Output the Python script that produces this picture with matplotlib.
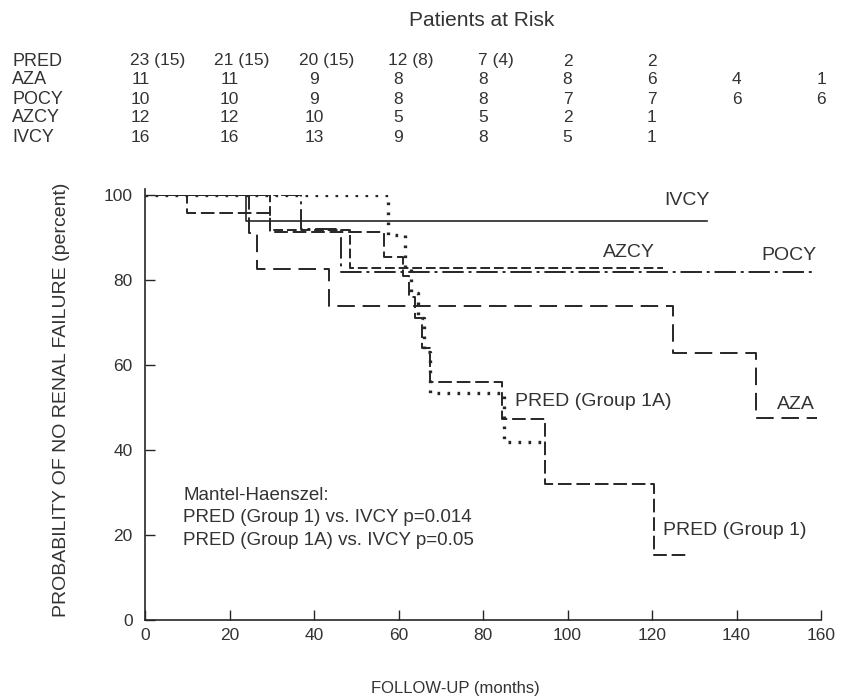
import matplotlib
matplotlib.use("Agg")
import matplotlib.pyplot as plt
from matplotlib.transforms import blended_transform_factory

plt.rcParams['font.family'] = ['Liberation Sans', 'DejaVu Sans']

# ---- data ----
ivcy_t = [0, 24, 133]
ivcy_s = [100, 94, 94]

aza_t = [0, 24.5, 26.5, 43.5, 125, 144.5, 159]
aza_s = [100, 91, 82.6, 74, 62.8, 47.5, 47.5]

azcy_t = [0, 29.6, 48.5, 122.6]
azcy_s = [100, 91.7, 82.8, 82.8]

pocy_t = [0, 37, 46.5, 158.6]
pocy_s = [100, 92, 81.8, 81.8]

pred1_t = [0, 10, 29.6, 56.5, 61, 62.5, 64, 65.5, 67.5, 84.5, 94.7, 120.5, 128]
pred1_s = [100, 95.7, 91.3, 85.5, 81, 76, 71, 64, 56, 47.3, 32, 15.3, 15.3]

pred1a_t = [0, 57.5, 61.5, 63, 64.5, 66, 67.5, 85, 94]
pred1a_s = [100, 90.6, 82.5, 77, 71, 63, 53.4, 41.9, 41.9]

risk_months = [0, 20, 40, 60, 80, 100, 120, 140, 160]
risk_rows = ["PRED", "AZA", "POCY", "AZCY", "IVCY"]
risk_pred = ["23 (15)", "21 (15)", "20 (15)", "12 (8)", "7 (4)", "2", "2"]
risk_aza = ["11", "11", "9", "8", "8", "8", "6", "4", "1"]
risk_pocy = ["10", "10", "9", "8", "8", "7", "7", "6", "6"]
risk_azcy = ["12", "12", "10", "5", "5", "2", "1"]
risk_ivcy = ["16", "16", "13", "9", "8", "5", "1"]

xticks = [0, 20, 40, 60, 80, 100, 120, 140, 160]
yticks = [0, 20, 40, 60, 80, 100]

# ---- figure ----
W, H = 843, 697
fig = plt.figure(figsize=(W / 100, H / 100), dpi=100)
ax = fig.add_axes([145 / W, 1 - 620 / H, (821 - 145) / W, (620 - 195) / H])

lc = '#262626'
tc = '#333333'

ax.step(ivcy_t, ivcy_s, where='post', color=lc, lw=1.2, linestyle='-')
ax.step(aza_t, aza_s, where='post', color=lc, lw=1.4, linestyle=(0, (9, 4)))
ax.step(azcy_t, azcy_s, where='post', color=lc, lw=1.4, linestyle=(0, (5, 2)))
ax.step(pocy_t, pocy_s, where='post', color=lc, lw=1.4, linestyle=(0, (11, 2.5, 1.5, 2.5)))
ax.step(pred1_t, pred1_s, where='post', color=lc, lw=1.4, linestyle=(0, (7, 2.5)))
ax.step(pred1a_t, pred1a_s, where='post', color=lc, lw=2.4, linestyle=(0, (0.8, 2.2)))

ax.set_xlim(0, 160)
ax.set_ylim(0, 100)
ax.set_xticks(xticks)
ax.set_yticks(yticks)
ax.tick_params(direction='in', length=7, width=1, colors=lc, labelcolor=tc, labelsize=12.5)
ax.tick_params(axis='y', pad=9)
ax.tick_params(axis='x', pad=6)
for s in ['top', 'right']:
    ax.spines[s].set_visible(False)
for s in ['left', 'bottom']:
    ax.spines[s].set_color(lc)
    ax.spines[s].set_linewidth(1.2)
ax.spines['left'].set_bounds(0, 101.5)

fs = 14
ax.text(123, 98.6, "IVCY", fontsize=fs, color=tc, ha='left', va='center')
ax.text(108.5, 86.4, "AZCY", fontsize=fs, color=tc, ha='left', va='center')
ax.text(146, 85.7, "POCY", fontsize=fs, color=tc, ha='left', va='center')
ax.text(87.5, 51.5, "PRED (Group 1A)", fontsize=fs, color=tc, ha='left', va='center')
ax.text(149.5, 50.6, "AZA", fontsize=fs, color=tc, ha='left', va='center')
ax.text(122.5, 21.0, "PRED (Group 1)", fontsize=fs, color=tc, ha='left', va='center')
ax.text(9, 29.2, "Mantel-Haenszel:", fontsize=13.5, color=tc, ha='left', va='center')
ax.text(9, 24.0, "PRED (Group 1) vs. IVCY p=0.014", fontsize=13.5, color=tc, ha='left', va='center')
ax.text(9, 18.6, "PRED (Group 1A) vs. IVCY p=0.05", fontsize=13.5, color=tc, ha='left', va='center')

fig.text(62 / W, 1 - 400 / H, "PROBABILITY OF NO RENAL FAILURE (percent)", rotation=90,
         ha='center', va='center', fontsize=14, color=tc)
fig.text(455 / W, 1 - 688 / H, "FOLLOW-UP (months)", ha='center', va='center',
         fontsize=12, color=tc)

# ---- patients at risk table ----
tr = blended_transform_factory(ax.transData, fig.transFigure)
fig.text(482 / W, 1 - 20 / H, "Patients at Risk", ha='center', va='center', fontsize=15, color=tc)
row_y = [61, 80, 99, 118, 138]
rows = [risk_pred, risk_aza, risk_pocy, risk_azcy, risk_ivcy]
for name, y, vals in zip(risk_rows, row_y, rows):
    fig.text(12 / W, 1 - y / H, name, ha='left', va='center', fontsize=13, color=tc)
    for m, v in zip(risk_months, vals):
        off = 3 if "(" in v else (-1 if m == 0 else 0)
        ax.text(m + off, 1 - y / H, v, transform=tr, ha='center', va='center',
                fontsize=12.5, color=tc)

fig.savefig("out.png", dpi=100, facecolor='white')
